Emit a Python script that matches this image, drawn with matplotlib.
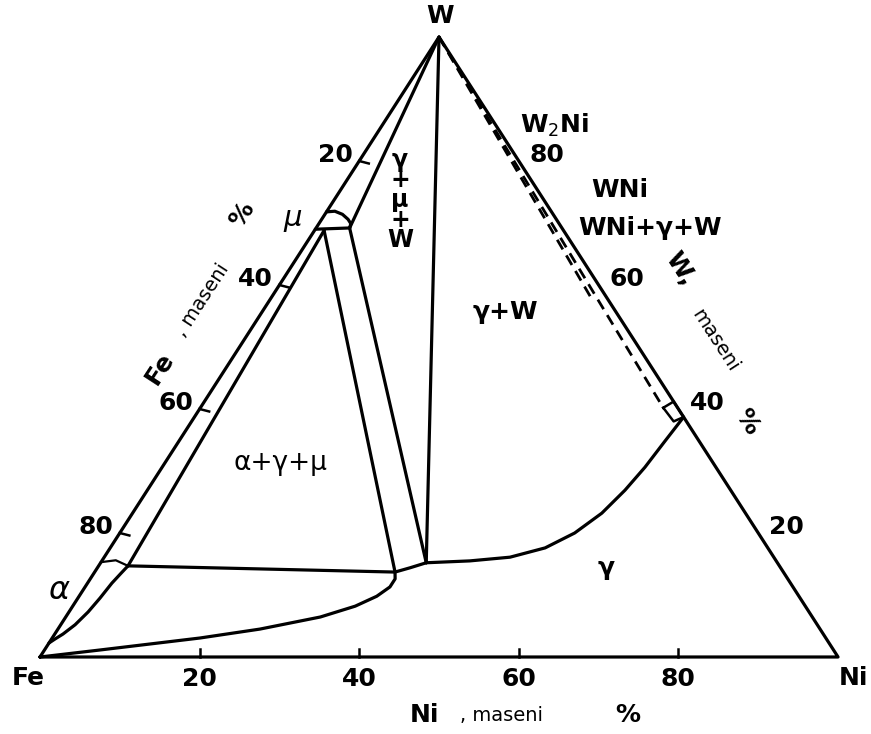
import matplotlib.pyplot as plt

# compositions in mass %, given as (Ni, W); Fe is the remainder
corner_ni = [0, 100, 0, 0]
corner_w = [0, 0, 100, 0]

# mu phase lens on the Fe-W side
mu_arc_ni = [0.0, 1.0, 2.2, 3.3, 4.0, 4.2]
mu_arc_w = [71.8, 71.9, 71.4, 70.6, 69.9, 69.2]
mu_base_ni = [0.0, 4.2]
mu_base_w = [69.0, 69.2]

# alpha field at the Fe corner
alpha_ni = [0.0, 0.43, 1.03, 1.8, 2.4, 2.77, 3.05, 3.4, 3.68]
alpha_w = [2.26, 2.9, 3.7, 5.2, 7.26, 9.5, 11.9, 13.5, 14.7]
alpha_cap_ni = [0.0, 1.7, 3.68]
alpha_cap_w = [15.3, 15.6, 14.7]

# gamma boundary towards alpha+gamma
g_low_ni = [0, 6.95, 18.5, 25.3, 31.9, 35.4, 37.3, 38.2, 38.2, 37.64, 39.2, 40.8]
g_low_w = [0, 1.13, 3.06, 4.5, 6.45, 8.2, 9.8, 11.3, 12.6, 13.7, 14.4, 15.2]

# gamma boundary towards gamma+W
g_high_ni = [40.8, 46.1, 50.85, 54.5, 57.0, 58.8, 59.85, 60.5, 60.9, 61.3]
g_high_w = [15.2, 15.5, 16.1, 17.6, 20.0, 23.2, 26.9, 30.6, 34.8, 38.7]

# tie lines of the three-phase triangles: (Ni1, W1, Ni2, W2)
ties = [
    (0.0, 100.0, 4.2, 69.2),    # W - mu
    (0.0, 100.0, 40.8, 15.2),   # W - gamma
    (4.2, 69.2, 40.8, 15.2),    # mu - gamma (right)
    (1.2, 68.8, 37.64, 13.7),   # mu - gamma (left)
    (1.2, 68.8, 3.68, 14.7),    # mu - alpha
    (3.68, 14.7, 37.64, 13.7),  # alpha - gamma
]

# dashed lines of the WNi+gamma+W field along W-Ni
dashed = [
    (0.0, 100.0, 58.0, 40.2),
    (0.0, 100.0, 40.5, 57.5),
]
box_ni = [58.0, 58.8, 61.3, 60.4, 58.0]
box_w = [40.2, 41.2, 38.7, 38.0, 40.2]

ticks = [20, 40, 60, 80]


def xy(ni, w):
    ni = list(ni) if hasattr(ni, '__len__') else [ni]
    w = list(w) if hasattr(w, '__len__') else [w]
    return [a + b / 2 for a, b in zip(ni, w)], w


fig = plt.figure(figsize=(8.71, 7.34), dpi=100)
ax = fig.add_axes([0, 0, 1, 1])
ax.set_xlim(-5.01, 104.13)
ax.set_ylim(-12.42, 105.97)
ax.axis('off')

lw = 2.3
k = dict(color='black', lw=lw, solid_capstyle='round', solid_joinstyle='round')

ax.plot(*xy(corner_ni, corner_w), **k)
ax.plot(*xy(mu_arc_ni, mu_arc_w), **k)
ax.plot(*xy(mu_base_ni, mu_base_w), **k)
ax.plot(*xy(alpha_ni, alpha_w), **k)
ax.plot(*xy(alpha_cap_ni, alpha_cap_w), color='black', lw=1.6)
ax.plot(*xy(g_low_ni, g_low_w), **k)
ax.plot(*xy(g_high_ni, g_high_w), **k)
for n1, w1, n2, w2 in ties:
    ax.plot(*xy([n1, n2], [w1, w2]), **k)
for n1, w1, n2, w2 in dashed:
    ax.plot(*xy([n1, n2], [w1, w2]), color='black', lw=2.0, ls=(0, (4, 2.5)))
ax.plot(*xy(box_ni, box_w), color='black', lw=1.8)

# ticks on the Ni axis and on the Fe-W side
for t in ticks:
    ax.plot([t, t], [0, 1.3], color='black', lw=1.8)
    x0, y0 = xy(0, 100 - t)
    ax.plot([x0[0], x0[0] + 1.2], [y0[0], y0[0] - 0.4], color='black', lw=1.8)

big = dict(fontsize=18, fontweight='bold', ha='center', va='center')
small = dict(fontsize=14, ha='center', va='center')

ax.text(50.1, 103.4, 'W', **big)
ax.text(-1.5, -3.4, 'Fe', **big)
ax.text(101.9, -3.4, 'Ni', **big)

for t in ticks:
    ax.text(t, -3.6, str(t), **big)
    x0, y0 = xy(0, 100 - t)
    ax.text(x0[0] - 0.8, y0[0] + 1.0, str(t), fontsize=18, fontweight='bold',
            ha='right', va='center')
    x1, y1 = xy(100 - t, t)
    ax.text(x1[0] + 1.4, y1[0] + 0.9, str(t), fontsize=18, fontweight='bold',
            ha='left', va='center')

ax.text(48.2, -9.35, 'Ni', **big)
ax.text(57.8, -9.5, ', maseni', **small)
ax.text(73.7, -9.35, '%', **big)

ax.text(15.0, 46.6, 'Fe', rotation=57, **big)
ax.text(20.3, 57.6, ', maseni', rotation=57, **small)
ax.text(25.3, 71.3, '%', rotation=57, **big)

ax.text(80.2, 62.7, 'W,', rotation=-57, **big)
ax.text(84.6, 51.1, 'maseni', rotation=-57, **small)
ax.text(88.6, 38.0, '%', rotation=-57, **big)

ax.text(31.7, 70.8, 'μ', fontsize=21, style='italic', ha='center', va='center')
ax.text(2.3, 10.8, 'α', fontsize=23, style='italic', ha='center', va='center')
ax.text(30.1, 31.3, 'α+γ+μ', fontsize=19, ha='center', va='center')
ax.text(45.1, 73.7, 'γ\n+\nμ\n+\nW', fontsize=17, fontweight='bold',
        ha='center', va='center', linespacing=0.78)
ax.text(58.3, 55.6, 'γ+W', **big)
ax.text(70.9, 14.4, 'γ', **big)
ax.text(64.5, 85.8, 'W$_2$Ni', **big)
ax.text(72.7, 75.3, 'WNi', **big)
ax.text(76.4, 69.2, 'WNi+γ+W', **big)

fig.savefig('out.png', dpi=100, facecolor='white')
